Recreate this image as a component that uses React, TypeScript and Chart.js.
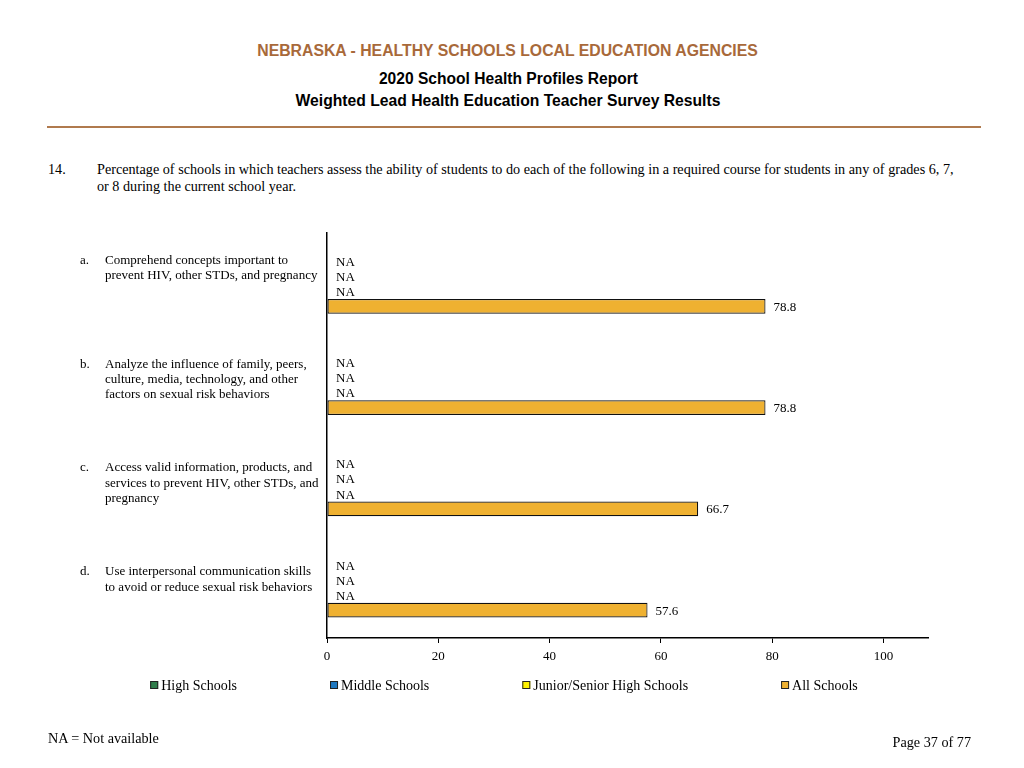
import React, { useEffect, useRef } from "react";
import { Chart, registerables } from "chart.js";

Chart.register(...registerables);

// ---- Data ----
const categoryLetters = ["a.", "b.", "c.", "d."];
const categoryLabels: string[][] = [
  ["Comprehend concepts important to", "prevent HIV, other STDs, and pregnancy"],
  ["Analyze the influence of family, peers,", "culture, media, technology, and other", "factors on sexual risk behaviors"],
  ["Access valid information, products, and", "services to prevent HIV, other STDs, and", "pregnancy"],
  ["Use interpersonal communication skills", "to avoid or reduce sexual risk behaviors"],
];
const seriesNames = ["High Schools", "Middle Schools", "Junior/Senior High Schools", "All Schools"];
const highSchools: (number | null)[] = [null, null, null, null];
const middleSchools: (number | null)[] = [null, null, null, null];
const juniorSeniorHighSchools: (number | null)[] = [null, null, null, null];
const allSchools: (number | null)[] = [78.8, 78.8, 66.7, 57.6];
const xTickValues = [0, 20, 40, 60, 80, 100];
const seriesColors = ["#2E7D4A", "#1F78C0", "#FFF200", "#EFB131"];

const SERIF = '"Liberation Serif", "Times New Roman", Times, serif';
const SANS = '"Liberation Sans", Arial, Helvetica, sans-serif';

const valueLabelPlugin = {
  id: "valueLabels",
  afterDatasetsDraw(chart: any) {
    const ctx = chart.ctx;
    const xScale = chart.scales.x;
    const x0 = xScale.getPixelForValue(0);
    ctx.save();
    ctx.font = `13px ${SERIF}`;
    ctx.fillStyle = "#000";
    ctx.textBaseline = "middle";
    ctx.textAlign = "left";
    chart.data.datasets.forEach((ds: any, di: number) => {
      const meta = chart.getDatasetMeta(di);
      meta.data.forEach((el: any, j: number) => {
        const v = ds.data[j];
        if (v === null || v === undefined) {
          ctx.fillText("NA", x0 + 9, el.y + 1.5);
        } else {
          ctx.fillText(Number(v).toFixed(1), el.x + 8, el.y + 1);
        }
      });
    });
    ctx.restore();
  },
};

const categoryLabelPlugin = {
  id: "categoryLabels",
  afterDraw(chart: any) {
    const ctx = chart.ctx;
    const meta = chart.getDatasetMeta(0);
    ctx.save();
    ctx.font = `13px ${SERIF}`;
    ctx.fillStyle = "#000";
    ctx.textBaseline = "middle";
    ctx.textAlign = "left";
    categoryLabels.forEach((lines, j) => {
      const el = meta.data[j];
      if (!el) return;
      const y0 = el.y - 0.5 + j * 2.6;
      ctx.fillText(categoryLetters[j], 80, y0);
      lines.forEach((line, k) => {
        ctx.fillText(line, 105, y0 + k * 15.4);
      });
    });
    ctx.restore();
  },
};

const legendPlugin = {
  id: "customLegend",
  afterDraw(chart: any) {
    const ctx = chart.ctx;
    ctx.save();
    ctx.font = `14px ${SERIF}`;
    ctx.textBaseline = "middle";
    ctx.textAlign = "left";
    const box = 8;
    const boxGap = 3;
    const itemGap = 93;
    const widths = chart.data.datasets.map((ds: any) => box + boxGap + ctx.measureText(ds.label).width);
    const total = widths.reduce((a: number, b: number) => a + b, 0) + itemGap * (widths.length - 1);
    const centerX = 504;
    const cy = 685;
    let x = centerX - total / 2;
    chart.data.datasets.forEach((ds: any, i: number) => {
      ctx.fillStyle = ds.backgroundColor;
      ctx.fillRect(x, cy - box / 2, box, box);
      ctx.strokeStyle = "#222";
      ctx.lineWidth = 1;
      ctx.strokeRect(x + 0.5, cy - box / 2 + 0.5, box - 1, box - 1);
      ctx.fillStyle = "#000";
      ctx.fillText(ds.label, x + box + boxGap, cy + 1);
      x += widths[i] + itemGap;
    });
    ctx.restore();
  },
};

function ChartCanvas() {
  const ref = useRef<HTMLCanvasElement | null>(null);
  useEffect(() => {
    if (!ref.current) return;
    const seriesData = [highSchools, middleSchools, juniorSeniorHighSchools, allSchools];
    const chart = new Chart(ref.current, {
      type: "bar",
      data: {
        labels: categoryLetters,
        datasets: seriesNames.map((name, i) => ({
          label: name,
          data: seriesData[i],
          backgroundColor: seriesColors[i],
          borderColor: "#111",
          borderWidth: 1.2,
          borderSkipped: false,
          categoryPercentage: 0.6,
          barPercentage: 0.96,
        })),
      },
      options: {
        indexAxis: "y",
        responsive: false,
        animation: false,
        layout: { padding: { left: 327, right: 96, top: 233, bottom: 0 } },
        plugins: {
          legend: { display: false },
          tooltip: { enabled: false },
          title: { display: false },
        },
        scales: {
          x: {
            type: "linear",
            min: 0,
            max: 108,
            afterBuildTicks: (scale: any) => {
              scale.ticks = xTickValues.map((v) => ({ value: v }));
            },
            afterFit: (scale: any) => {
              scale.height = 130;
            },
            ticks: {
              stepSize: 20,
              includeBounds: false,
              color: "#000",
              font: { family: SERIF, size: 13 },
              padding: 6,
              maxRotation: 0,
            },
            grid: {
              display: true,
              drawOnChartArea: false,
              drawTicks: true,
              tickLength: 5,
              color: "#000",
              lineWidth: 1,
            },
            border: { display: true, color: "#000", width: 1.5 },
          },
          y: {
            type: "category",
            afterFit: (scale: any) => {
              scale.width = 0;
            },
            ticks: { display: false },
            grid: { display: false },
            border: { display: true, color: "#000", width: 1.5 },
          },
        },
      } as any,
      plugins: [valueLabelPlugin, categoryLabelPlugin, legendPlugin],
    });
    return () => chart.destroy();
  }, []);
  return (
    <canvas
      ref={ref}
      width={1024}
      height={768}
      style={{ position: "absolute", left: 0, top: 0, width: 1024, height: 768 }}
    />
  );
}

export default function App() {
  const abs = (extra: React.CSSProperties): React.CSSProperties => ({
    position: "absolute",
    margin: 0,
    whiteSpace: "nowrap",
    ...extra,
  });
  return (
    <div style={{ position: "absolute", left: 0, top: 0, width: 1024, height: 768, background: "#fff" }}>
      <div style={abs({ left: 0, width: 1015, top: 41, textAlign: "center", font: `bold 15.8px ${SANS}`, color: "#A8693A", lineHeight: "20px" })}>
        NEBRASKA - HEALTHY SCHOOLS LOCAL EDUCATION AGENCIES
      </div>
      <div style={abs({ left: 0, width: 1017, top: 69, textAlign: "center", font: `bold 15.6px ${SANS}`, color: "#000", lineHeight: "20px" })}>
        2020 School Health Profiles Report
      </div>
      <div style={abs({ left: 0, width: 1016, top: 91, textAlign: "center", font: `bold 15.7px ${SANS}`, color: "#000", lineHeight: "20px" })}>
        Weighted Lead Health Education Teacher Survey Results
      </div>
      <div style={abs({ left: 47, top: 126, width: 934, height: 2, background: "#B07A4E" })} />
      <div style={abs({ left: 48, top: 161, font: `14.2px ${SERIF}`, color: "#000", lineHeight: "17px" })}>14.</div>
      <div style={abs({ left: 97, top: 161, font: `14.2px ${SERIF}`, color: "#000", lineHeight: "17px" })}>
        Percentage of schools in which teachers assess the ability of students to do each of the following in a required course for students in any of grades 6, 7,
        <br />
        or 8 during the current school year.
      </div>
      <ChartCanvas />
      <div style={abs({ left: 48, top: 729, font: `14.2px ${SERIF}`, color: "#000", lineHeight: "18px" })}>NA = Not available</div>
      <div style={abs({ right: 1024 - 971, top: 733, font: `14.2px ${SERIF}`, color: "#000", lineHeight: "18px" })}>Page 37 of 77</div>
    </div>
  );
}
